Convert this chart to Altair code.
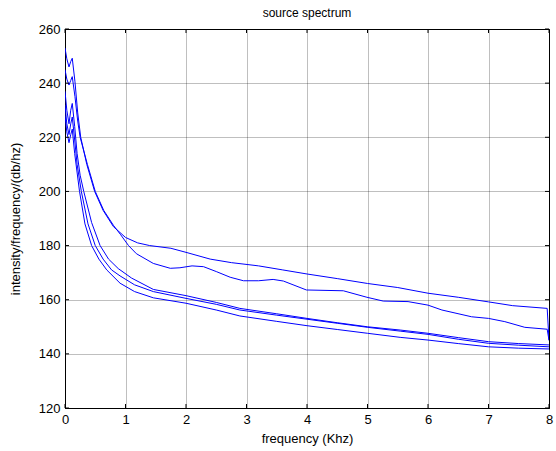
import altair as alt
import pandas as pd

# ---- data ----
a_x = [0, 0.03, 0.066, 0.095, 0.12, 0.165, 0.21, 0.26, 0.36, 0.49, 0.63, 0.8, 1.0, 1.2, 1.4, 1.75, 2.0, 2.4, 2.75, 3.2, 3.6, 4.0, 4.5, 5.0, 5.5, 6.0, 6.5, 7.0, 7.4, 7.97, 8.0]
a_y = [253, 249, 246, 248, 249.2, 240.5, 229, 220, 210, 200, 193, 187, 183, 181, 180, 179, 177.5, 175, 173.7, 172.5, 171, 169.5, 167.8, 166, 164.5, 162.4, 160.9, 159.2, 157.8, 156.8, 145]

b_x = [0, 0.03, 0.066, 0.095, 0.12, 0.165, 0.21, 0.25, 0.37, 0.5, 0.64, 0.8, 0.92, 1.05, 1.18, 1.46, 1.74, 1.9, 2.1, 2.29, 2.5, 2.73, 2.95, 3.2, 3.44, 3.61, 3.99, 4.6, 4.99, 5.26, 5.67, 6.0, 6.23, 6.72, 7.0, 7.27, 7.6, 7.97, 8.0]
b_y = [245, 241.5, 239.3, 241, 242.4, 235, 226, 220, 210, 200, 193, 187.5, 184, 180, 177, 173.4, 171.6, 171.8, 172.5, 172.2, 170.4, 168.3, 167.0, 167.0, 167.5, 166.9, 163.6, 163.3, 160.9, 159.5, 159.3, 158.0, 156.2, 153.7, 153.1, 151.9, 149.8, 149.1, 145]

c_x = [0, 0.03, 0.066, 0.095, 0.12, 0.16, 0.2, 0.25, 0.31, 0.44, 0.58, 0.72, 0.88, 1.1, 1.46, 2.0, 2.5, 2.89, 3.5, 4.0, 4.5, 5.0, 5.54, 6.0, 6.5, 7.0, 7.5, 8.0]
c_y = [237, 230, 225, 230, 232.5, 224, 214, 206, 200, 188.5, 180, 175, 171.5, 168, 163.8, 161.5, 159, 156.8, 154.8, 153.1, 151.5, 150.0, 148.8, 147.6, 146, 144.5, 143.8, 143.3]

d_x = [0, 0.03, 0.066, 0.095, 0.12, 0.16, 0.2, 0.27, 0.38, 0.5, 0.63, 0.77, 0.91, 1.15, 1.46, 2.0, 2.5, 2.89, 3.5, 4.0, 4.5, 5.0, 5.54, 6.0, 6.5, 7.0, 7.5, 8.0]
d_y = [232, 225, 221, 225, 227.5, 219, 210, 200, 188, 180, 175, 171, 168.8, 165.5, 163.0, 160.5, 158.3, 156.2, 154.3, 152.8, 151.3, 149.8, 148.4, 147.2, 145.4, 143.9, 143.2, 142.6]

e_x = [0, 0.03, 0.066, 0.095, 0.12, 0.16, 0.24, 0.33, 0.44, 0.56, 0.69, 0.91, 1.15, 1.46, 2.0, 2.5, 2.89, 3.5, 4.0, 4.5, 5.0, 5.54, 6.0, 6.5, 7.0, 7.5, 8.0]
e_y = [228, 222, 218, 221, 223, 214, 200, 188, 180, 175, 171, 166.1, 163, 160.7, 158.7, 156.2, 154.0, 152, 150.4, 149, 147.6, 146.1, 145.1, 143.8, 142.6, 142.1, 141.8]

x_ticks = [0, 1, 2, 3, 4, 5, 6, 7, 8]
y_ticks = [120, 140, 160, 180, 200, 220, 240, 260]

W, H = 484, 379
FONT = "Liberation Sans"
X_TITLE = "frequency (Khz)"
Y_TITLE = "intensity/frequency/(db/hz)"

rows = []
for name, xs, ys in [("a", a_x, a_y), ("b", b_x, b_y), ("c", c_x, c_y), ("d", d_x, d_y), ("e", e_x, e_y)]:
    for i, (xv, yv) in enumerate(zip(xs, ys)):
        rows.append({"curve": name, "idx": i, "f": xv, "v": yv})
df = pd.DataFrame(rows)

xscale = alt.Scale(domain=[0, 8], nice=False, zero=False)
yscale = alt.Scale(domain=[120, 260], nice=False, zero=False)
xaxis = alt.Axis(values=x_ticks, grid=True, tickSize=0, labelPadding=5,
                 labelFlush=False, labelOverlap=False, titlePadding=6)
yaxis = alt.Axis(values=y_ticks, grid=True, tickSize=0, labelPadding=5,
                 labelOverlap=False, titlePadding=16)

def X():
    return alt.X("f:Q", scale=xscale, title=X_TITLE, axis=xaxis)

def Y():
    return alt.Y("v:Q", scale=yscale, title=Y_TITLE, axis=yaxis)

lines = alt.Chart(df).mark_line(color="#0000ff", strokeWidth=1, clip=True).encode(
    x=X(), y=Y(), detail="curve:N", order="idx:Q",
)

xt = pd.DataFrame({"f": x_ticks})
yt = pd.DataFrame({"v": y_ticks})

tick_bottom = alt.Chart(xt).mark_rule(color="black", strokeWidth=1).encode(
    x=X(), y=alt.value(H), y2=alt.value(H - 4))
tick_top = alt.Chart(xt).mark_rule(color="black", strokeWidth=1).encode(
    x=X(), y=alt.value(0), y2=alt.value(4))
tick_left = alt.Chart(yt).mark_rule(color="black", strokeWidth=1).encode(
    y=Y(), x=alt.value(0), x2=alt.value(4))
tick_right = alt.Chart(yt).mark_rule(color="black", strokeWidth=1).encode(
    y=Y(), x=alt.value(W), x2=alt.value(W - 4))

chart = alt.layer(lines, tick_bottom, tick_top, tick_left, tick_right).properties(
    width=W, height=H,
    title=alt.TitleParams("source spectrum", font=FONT, fontSize=12, fontWeight="normal",
                          color="black", offset=3),
    autosize=alt.AutoSizeParams(type="none"),
    padding={"left": 65, "top": 29, "right": 7, "bottom": 43},
    background="white",
).configure_view(
    stroke="black", strokeWidth=1
).configure_axis(
    domainColor="black", domainWidth=1,
    gridColor="#000000", gridOpacity=0.5, gridDash=[1, 1], gridWidth=1,
    labelFont=FONT, labelFontSize=13, labelColor="black",
    titleFont=FONT, titleFontSize=13, titleFontWeight="normal", titleColor="black",
)

chart.save("out.html", embed_options={"renderer": "svg", "actions": False})
